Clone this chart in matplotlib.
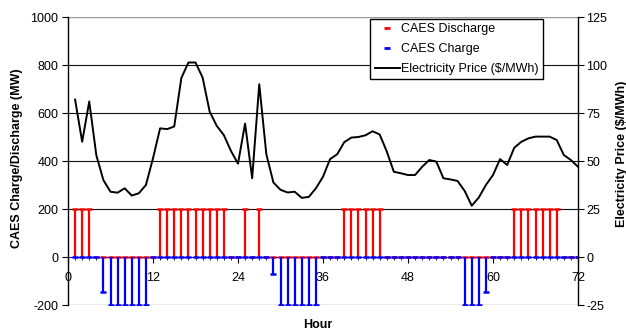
import matplotlib
matplotlib.use('Agg')
import matplotlib.pyplot as plt
from matplotlib.lines import Line2D
from matplotlib.ticker import MultipleLocator
import numpy as np

plt.rcParams['font.family'] = ['Liberation Sans', 'DejaVu Sans']
plt.rcParams['font.size'] = 9
plt.rcParams['axes.unicode_minus'] = False

hours = np.arange(1, 73)

# CAES dispatch per hour (MW): positive = discharge, negative = charge
discharge = [200, 200, 200, 0, 0, 0, 0, 0, 0, 0, 0, 0,
             200, 200, 200, 200, 200, 200, 200, 200, 200, 200, 0, 0,
             200, 0, 200, 0, 0, 0, 0, 0, 0, 0, 0, 0,
             0, 0, 200, 200, 200, 200, 200, 200, 0, 0, 0, 0,
             0, 0, 0, 0, 0, 0, 0, 0, 0, 0, 0, 0,
             0, 0, 200, 200, 200, 200, 200, 200, 200, 0, 0, 0]
charge = [0, 0, 0, 0, -145, -200, -200, -200, -200, -200, -200, 0,
          0, 0, 0, 0, 0, 0, 0, 0, 0, 0, 0, 0,
          0, 0, 0, 0, -70, -200, -200, -200, -200, -200, -200, 0,
          0, 0, 0, 0, 0, 0, 0, 0, 0, 0, 0, 0,
          0, 0, 0, 0, 0, 0, 0, -200, -200, -200, -145, 0,
          0, 0, 0, 0, 0, 0, 0, 0, 0, 0, 0, 0]

# hourly electricity price ($/MWh)
price = [82, 60, 81, 53, 40, 34, 33.5, 35.8, 32, 33.2, 37.5, 51.4,
         67, 66.6, 68, 93.2, 101.3, 101.3, 93.5, 75.7, 68.3, 63.5, 55.3, 48.6,
         69.5, 41, 90, 53.5, 38.8, 35, 33.6, 34, 30.8, 31.3, 35.8, 41.8,
         51, 53.5, 59.8, 62.2, 62.5, 63.4, 65.5, 63.8, 55, 44.4, 43.6, 42.7,
         42.7, 47, 50.5, 49.7, 41, 40.4, 39.6, 34.4, 26.7, 31, 37.5, 42.7,
         51, 47.9, 56.9, 60, 61.8, 62.7, 62.7, 62.7, 60.9, 53.1, 50.5, 47]

red = '#ff0000'
blue = '#0000ff'

fig = plt.figure(figsize=(6.26, 3.33), dpi=100)
ax = fig.add_axes([68 / 626, 1 - 305 / 333, 510 / 626, 288 / 333])

ax.set_xlim(0, 72)
ax.set_ylim(-200, 1000)

# horizontal grid
for v in [200, 400, 600, 800]:
    ax.axhline(v, color='#111111', lw=0.8, zorder=1)
ax.axhline(1000, color='#9a9a9a', lw=1, zorder=1)
ax.axhline(-200, color='#9a9a9a', lw=1, zorder=1)

# dispatch bars with dash markers at the ends
ax.vlines(hours, 0, discharge, color=red, lw=1.6, zorder=3)
ax.plot(hours, discharge, ls='none', marker='_', ms=4.2, mew=1.8, color=red, zorder=4)
ax.vlines(hours, 0, charge, color=blue, lw=1.6, zorder=5)
ax.plot(hours, charge, ls='none', marker='_', ms=4.2, mew=1.8, color=blue, zorder=6)

ax.spines['top'].set_visible(False)
ax.spines['right'].set_visible(False)
ax.spines['bottom'].set_position(('data', 0))
ax.spines['bottom'].set_color(blue)
ax.spines['bottom'].set_zorder(2)
ax.spines['left'].set_linewidth(1)

ax.xaxis.set_major_locator(MultipleLocator(12))
ax.xaxis.set_minor_locator(MultipleLocator(1))
ax.yaxis.set_major_locator(MultipleLocator(200))
ax.tick_params(axis='x', which='major', direction='out', length=4, pad=7, labelsize=9)
ax.tick_params(axis='x', which='minor', direction='out', length=2)
ax.tick_params(axis='y', direction='out', length=4, pad=3, labelsize=9)

# price on the secondary axis
ax2 = ax.twinx()
ax2.set_ylim(-25, 125)
ax2.yaxis.set_major_locator(MultipleLocator(25))
ax2.plot(hours, price, color='black', lw=1.4, zorder=5)
for s in ['top', 'left', 'bottom']:
    ax2.spines[s].set_visible(False)
ax2.spines['right'].set_linewidth(1)
ax2.tick_params(axis='y', direction='out', length=4, pad=2, labelsize=9)

handles = [
    Line2D([], [], color=red, ls='none', marker='_', ms=5, mew=2),
    Line2D([], [], color=blue, ls='none', marker='_', ms=5, mew=2),
    Line2D([], [], color='black', lw=1.4),
]
labels = ['CAES Discharge', 'CAES Charge', 'Electricity Price ($/MWh)']
leg = ax2.legend(handles, labels, loc='upper right', bbox_to_anchor=(0.932, 0.993),
                 borderaxespad=0, fancybox=False, framealpha=1, edgecolor='black',
                 fontsize=9, handlelength=2.0, handletextpad=0.15, borderpad=0.35,
                 labelspacing=0.62)
leg.get_frame().set_linewidth(1)

fig.text(17.5 / 626, 1 - 158 / 333, 'CAES Charge/Discharge (MW)', rotation=90,
         ha='center', va='center', fontsize=9, fontweight='bold')
fig.text(621.5 / 626, 1 - 154 / 333, 'Electricity Price ($/MWh)', rotation=90,
         ha='center', va='center', fontsize=9, fontweight='bold')
fig.text(318 / 626, 1 - 325 / 333, 'Hour', ha='center', va='center',
         fontsize=9, fontweight='bold')

fig.savefig('out.png', dpi=100)
